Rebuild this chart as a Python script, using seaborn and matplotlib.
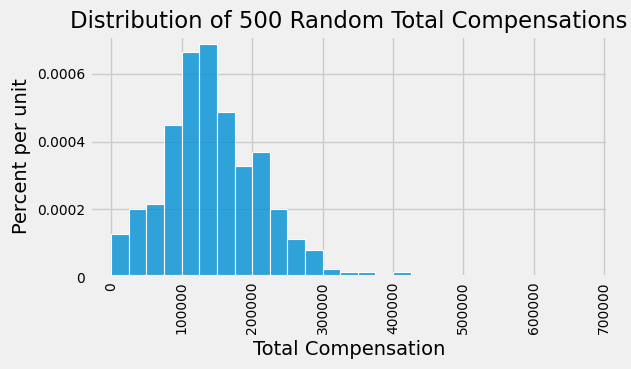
import numpy as np
import matplotlib
matplotlib.use("Agg")
import matplotlib.pyplot as plt
import matplotlib.ticker as mticker
import seaborn as sns

# bin edges (width 25000) and density heights ("percent per unit")
bin_edges = list(range(0, 725000, 25000))
heights = [0.000128, 0.000200, 0.000216, 0.000448, 0.000664, 0.000688, 0.000488,
           0.000328, 0.000368, 0.000200, 0.000112, 0.000080, 0.000024, 0.000016,
           0.000016, 0.000000, 0.000016] + [0.0] * 11
x_ticks = [0, 100000, 200000, 300000, 400000, 500000, 600000, 700000]
y_ticks = [0, 0.0002, 0.0004, 0.0006]

plt.style.use("fivethirtyeight")

centers = [(a + b) / 2 for a, b in zip(bin_edges[:-1], bin_edges[1:])]

fig = plt.figure(figsize=(6.31, 3.69), dpi=100)
ax = fig.add_axes([0.1426, 0.2493, 0.8209, 0.6531])
sns.histplot(x=centers, weights=heights, bins=bin_edges, stat="count",
             color="#008fd5", alpha=0.8, edgecolor="white", linewidth=0.8, ax=ax)

ax.set_xticks(x_ticks)
ax.set_xticklabels([str(t) for t in x_ticks], rotation=90, fontsize=10)
ax.set_yticks(y_ticks)
ax.yaxis.set_major_formatter(mticker.FuncFormatter(lambda v, p: "0" if v == 0 else f"{v:g}"))
ax.tick_params(axis="y", labelsize=10)
ax.set_xlabel("Total Compensation", fontsize=14)
ax.set_ylabel("Percent per unit", fontsize=14)
ax.set_title("Distribution of 500 Random Total Compensations", fontsize=16.4)
ax.set_xlim(-30240, 705250)
ax.set_ylim(0, 0.000712)

fig.savefig("out.png", dpi=100)
